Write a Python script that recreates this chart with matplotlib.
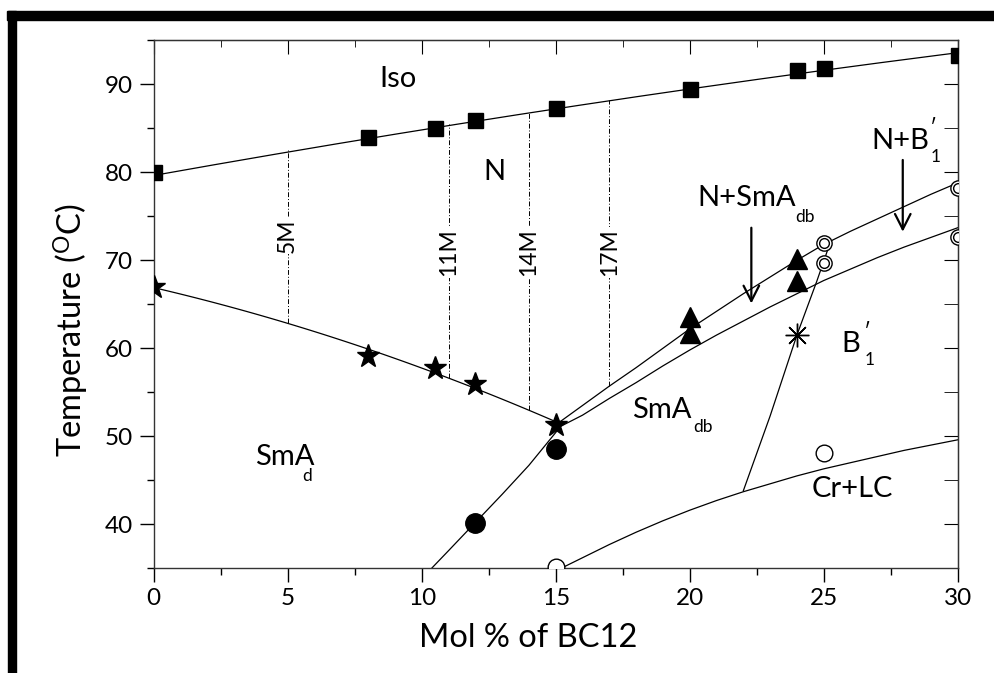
import numpy as np
import matplotlib
matplotlib.use('Agg')
import matplotlib.pyplot as plt
from matplotlib.patches import Rectangle
from matplotlib.ticker import MultipleLocator

plt.rcParams['font.family'] = ['Lato', 'DejaVu Sans']
plt.rcParams['mathtext.fontset'] = 'custom'
plt.rcParams['mathtext.rm'] = 'Lato'

# ---------------- data ----------------
# Iso -> N transition (filled squares)
iso_x = [0, 8, 10.5, 12, 15, 20, 24, 25, 30]
iso_T = [80.0, 84.0, 85.0, 85.9, 87.3, 89.5, 91.6, 91.8, 93.3]
# N -> SmA_d transition (stars)
smad_x = [0, 8, 10.5, 12, 15]
smad_T = [67.0, 59.1, 57.8, 55.9, 51.3]
# SmA_d -> SmA_db (filled circles)
circ_x = [12, 15]
circ_T = [40.2, 48.6]
# N+SmA_db (filled triangles)
tri_x = [20, 20, 24, 24]
tri_T = [63.5, 61.7, 70.2, 67.6]
# N+B1' (double open circles)
dcirc_x = [25, 25, 30, 30]
dcirc_T = [72.0, 69.7, 78.2, 72.6]
# crystallisation (open circles)
ocirc_x = [15, 25]
ocirc_T = [35.2, 48.1]
# SmA_db -> B1' (asterisk)
ast_x = [24]
ast_T = [61.5]

# phase boundary curves
upper_x = [15.0, 16, 17, 18, 19, 20, 21, 22, 23, 24, 25, 26, 27, 28, 29, 30]
upper_T = [51.3, 53.5, 55.7, 57.8, 60.0, 62.2, 64.2, 66.2, 68.1, 70.0, 71.8, 73.3, 74.7, 76.1, 77.5, 78.8]
lower_x = [15.1, 16, 17, 18, 19, 20, 21, 22, 23, 24, 25, 26, 27, 28, 29, 30]
lower_T = [51.0, 52.4, 54.3, 56.1, 58.0, 59.8, 61.5, 63.1, 64.7, 66.2, 67.7, 69.0, 70.3, 71.5, 72.6, 73.7]
sd_x = [10.37, 11, 12, 13, 14, 15.1]
sd_T = [35.0, 37.0, 40.2, 43.4, 46.7, 50.8]
b1_x = [22.0, 23.0, 24.0, 24.74, 25.15]
b1_T = [43.8, 52.3, 61.5, 67.6, 71.2]
cr_x = [15.2, 16, 17, 18, 19, 20, 21, 22, 23, 24, 25, 26, 27, 28, 29, 30]
cr_T = [35.0, 36.2, 37.7, 39.1, 40.4, 41.6, 42.7, 43.7, 44.6, 45.5, 46.3, 47.0, 47.7, 48.4, 49.0, 49.6]

# mixtures marked by dash-dot verticals
mix_x = [5, 11, 14, 17]
mix_labels = ['5M', '11M', '14M', '17M']
mix_label_T = [72.8, 70.9, 70.9, 70.9]

x_ticks = [0, 5, 10, 15, 20, 25, 30]
y_ticks = [40, 50, 60, 70, 80, 90]

# ---------------- figure ----------------
W, H = 995, 673
fig = plt.figure(figsize=(W / 100, H / 100), dpi=100)
ax = fig.add_axes([153.7 / W, 1 - 568.3 / H, (957.7 - 153.7) / W, (568.3 - 40.3) / H])

# black frame (top and left bars)
fig.patches.append(Rectangle((7 / W, 1 - 19.5 / H), 1 - 7 / W, 8.5 / H,
                             transform=fig.transFigure, color='black', zorder=10))
fig.patches.append(Rectangle((8 / W, 0), 8 / W, 1 - 11 / H,
                             transform=fig.transFigure, color='black', zorder=10))

lw = 0.9
xs = np.linspace(0, 30, 200)
iso_fit = np.poly1d(np.polyfit(iso_x, iso_T, 2))
ax.plot(xs, iso_fit(xs) - 0.25 * (1 - xs / 30), color='black', lw=lw, zorder=2)
xs2 = np.linspace(0, 15, 120)
smad_fit = np.poly1d(np.polyfit(smad_x, smad_T, 2))
ax.plot(xs2, smad_fit(xs2), color='black', lw=lw, zorder=2)
for cx, cy in [(upper_x, upper_T), (lower_x, lower_T), (sd_x, sd_T),
               (b1_x, b1_T), (cr_x, cr_T)]:
    ax.plot(cx, cy, color='black', lw=lw, zorder=2)

# dash-dot verticals
for mx, lab, ly in zip(mix_x, mix_labels, mix_label_T):
    top = iso_fit(mx)
    bot = smad_fit(mx) if mx <= 15 else np.interp(mx, upper_x, upper_T)
    ax.plot([mx, mx], [bot, top], color='black', lw=0.7, ls=(0, (5, 2, 1, 2)), zorder=1)
    ax.text(mx, ly, lab, rotation=90, ha='center', va='center', fontsize=16.5,
            bbox=dict(facecolor='white', edgecolor='none', pad=1.0), zorder=3)

# markers
ax.plot(iso_x, iso_T, 's', color='black', ms=10.8, zorder=4)
ax.plot(smad_x, smad_T, '*', color='black', ms=17, zorder=4)
ax.plot(circ_x, circ_T, 'o', color='black', ms=14, zorder=4)
ax.plot(tri_x, tri_T, '^', color='black', ms=14.5, zorder=4)
ax.plot(dcirc_x, dcirc_T, 'o', mfc='white', mec='black', mew=1.0, ms=11, zorder=4)
ax.plot(dcirc_x, dcirc_T, 'o', mfc='none', mec='black', mew=1.0, ms=7, zorder=4)
ax.plot(ocirc_x, ocirc_T, 'o', mfc='white', mec='black', mew=1.0, ms=12, zorder=4)
ax.plot(ast_x, ast_T, marker=(8, 2, 0), color='black', mew=1.0, ms=17, ls='none', zorder=4)

# region labels
fs_big = 21
fs_sub = 12.5
def lbl(x, y, s, fs=fs_big, **kw):
    ax.text(x, y, s, fontsize=fs, ha='left', va='baseline', zorder=5, **kw)

lbl(8.42, 89.7, 'Iso')
lbl(12.3, 79.1, 'N')
lbl(3.78, 46.75, 'SmA')
lbl(5.55, 44.9, 'd', fs=fs_sub)
lbl(17.86, 52.05, 'SmA')
lbl(20.13, 50.5, 'db', fs=fs_sub)
lbl(20.28, 76.2, 'N+SmA')
lbl(23.95, 74.4, 'db', fs=fs_sub)
lbl(26.79, 82.7, 'N+B')
lbl(28.98, 84.4, '\u2032', fs=15)
lbl(28.98, 81.2, '1', fs=fs_sub)
lbl(25.67, 59.6, 'B')
lbl(26.5, 61.2, '\u2032', fs=15)
lbl(26.52, 58.1, '1', fs=fs_sub)
lbl(24.56, 43.1, 'Cr+LC')

# arrows
arrow_kw = dict(arrowstyle='->,head_length=0.55,head_width=0.28', color='black', lw=1.6,
                mutation_scale=20, shrinkA=0, shrinkB=0)
ax.annotate('', xy=(22.3, 65.1), xytext=(22.3, 73.7), arrowprops=arrow_kw, zorder=5)
ax.annotate('', xy=(27.95, 73.25), xytext=(27.95, 81.4), arrowprops=arrow_kw, zorder=5)

# axes
ax.set_xlim(0, 30)
ax.set_ylim(35, 95)
ax.set_xticks(x_ticks)
ax.set_yticks(y_ticks)
ax.xaxis.set_minor_locator(MultipleLocator(2.5))
ax.yaxis.set_minor_locator(MultipleLocator(5))
ax.tick_params(which='major', direction='out', length=10, width=1, labelsize=17.5)
ax.tick_params(axis='x', which='major', pad=4)
ax.tick_params(axis='y', which='major', pad=5)
ax.tick_params(which='minor', direction='out', length=5, width=1)
for s in ax.spines.values():
    s.set_color('#333333')
    s.set_linewidth(1.0)

secx = ax.secondary_xaxis('top')
secx.set_xticks(x_ticks)
secx.xaxis.set_minor_locator(MultipleLocator(2.5))
secx.tick_params(which='major', direction='in', length=10, labeltop=False)
secx.tick_params(which='minor', direction='in', length=5)
secy = ax.secondary_yaxis('right')
secy.set_yticks(y_ticks)
secy.yaxis.set_minor_locator(MultipleLocator(5))
secy.tick_params(which='both', direction='in', length=10, labelright=False)

ax.set_xlabel('Mol % of BC12', fontsize=23.5)
ax.xaxis.set_label_coords(0.4655, -0.104)
ax.set_ylabel('Temperature ($\\mathregular{^{O}}$C)', fontsize=23.5)
ax.yaxis.set_label_coords(-0.078, 0.451)

fig.savefig('out.png', dpi=100)
